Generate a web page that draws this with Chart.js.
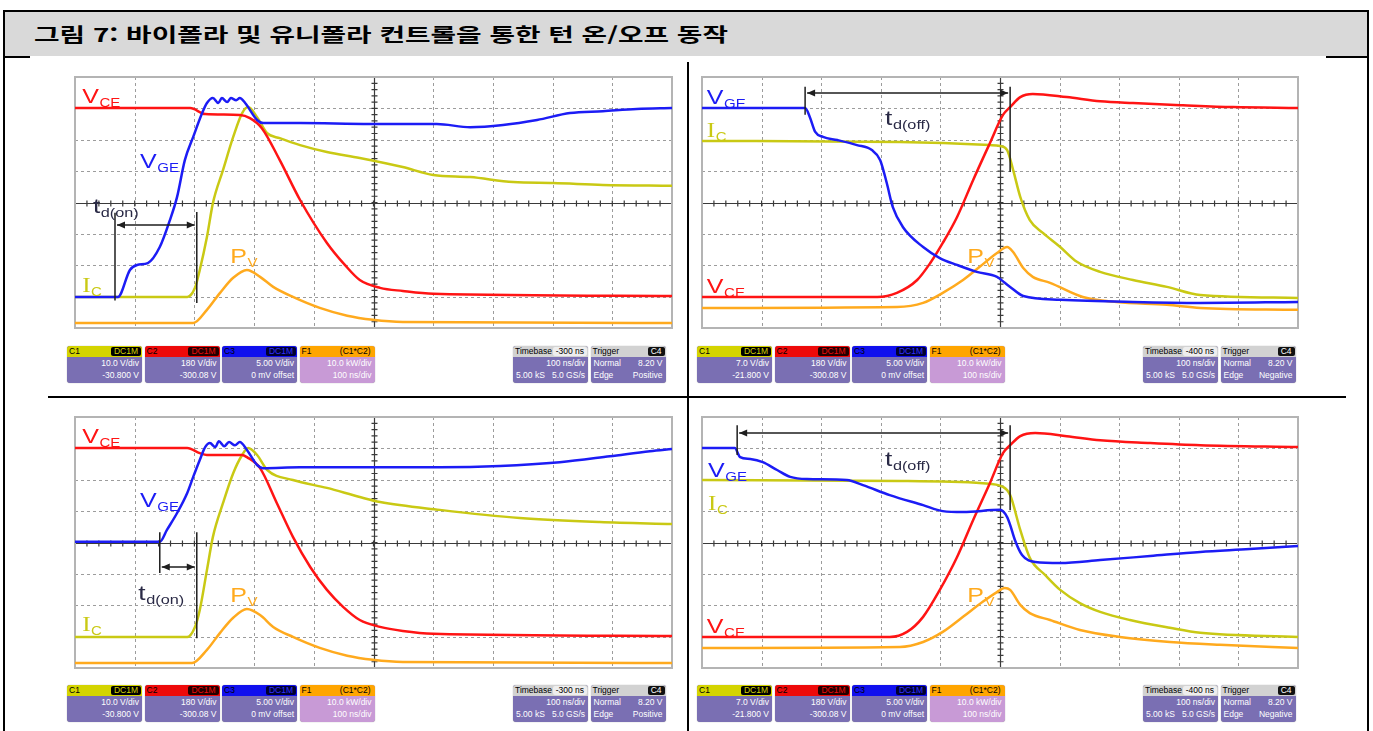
<!DOCTYPE html>
<html lang="ko">
<head>
<meta charset="UTF-8">
<title>그림 7: 바이폴라 및 유니폴라 컨트롤을 통한 턴 온/오프 동작</title>
<script src="https://cdn.jsdelivr.net/npm/chart.js"></script>
<style>
    body {
        margin: 0;
        width: 1373px;
        height: 731px;
        position: relative;
        overflow: hidden;
        background: #fff;
        font-family: "Liberation Sans", Arial, sans-serif;
    }
    .rule { position: absolute; background: #000; }
    .titlebar {
        position: absolute;
        left: 5px; top: 11px; width: 1362px; height: 45px;
        background: #d9d9d9;
    }
    .title {
        position: absolute;
        left: 34px; top: 22px;
        font-family: "Noto Sans CJK KR", sans-serif;
        font-weight: bold;
        font-size: 19px;
        line-height: 24px;
        white-space: nowrap;
        transform-origin: 0 50%;
        color: #000;
    }
    .scope { position: absolute; width: 603px; height: 257px; }
    .box {
        position: absolute;
        width: 75px; height: 37px;
        border-radius: 3px;
        background: #7a6fb3;
        overflow: hidden;
        font-size: 8.5px;
        color: #fff;
        box-shadow: 0 0 1px #888;
    }
    .box .hd {
        position: relative;
        height: 11px; line-height: 11px;
        color: #000;
        padding-left: 2px;
    }
    .box .tag {
        position: absolute; right: 1px; top: 1px;
        height: 9px; line-height: 9px;
        padding: 0 3px;
        background: #000;
        border-radius: 2px;
    }
    .box .ln {
        height: 12px; line-height: 12px;
        padding: 0 3px;
        display: flex;
        justify-content: flex-end;
    }
    .box .ln.split { justify-content: space-between; }
</style>
</head>
<body>

<div class="titlebar"></div>
<div class="title" id="title">그림 7: 바이폴라 및 유니폴라 컨트롤을 통한 턴 온/오프 동작</div>

<div class="rule" style="left:3px;top:10px;width:1366px;height:2px"></div>
<div class="rule" style="left:3px;top:10px;width:2px;height:721px"></div>
<div class="rule" style="left:1367px;top:10px;width:2px;height:721px"></div>
<div class="rule" style="left:3px;top:56px;width:27px;height:2px"></div>
<div class="rule" style="left:1326px;top:56px;width:43px;height:2px"></div>
<div class="rule" style="left:687px;top:62px;width:2px;height:669px"></div>
<div class="rule" style="left:48px;top:396px;width:1298px;height:2px"></div>

<div class="scope" style="left:72px;top:74px"><canvas id="tl"></canvas></div>
<div class="scope" style="left:699px;top:74px;width:602px"><canvas id="tr"></canvas></div>
<div class="scope" style="left:72px;top:414px"><canvas id="bl"></canvas></div>
<div class="scope" style="left:699px;top:414px;width:602px"><canvas id="br"></canvas></div>

<div id="bars"></div>

<script>
// traces in scope divisions: x 0..10, y -4..4
// top left: bipolar turn-on
const tlVceT = [0, 1.93, 2.18, 2.76, 2.93, 3.13, 3.43, 3.77, 4.22, 4.52, 4.77, 5.11, 5.49, 6.0, 10];
const tlVceV = [3.01, 3.01, 2.82, 2.79, 2.69, 2.37, 1.35, 0.08, -1.29, -1.99, -2.47, -2.72, -2.82, -2.91, -2.98];
const tlVgeT = [0, 0.72, 0.92, 1.04, 1.22, 1.42, 1.59, 1.71, 1.84, 1.98, 2.13, 2.21, 2.31, 2.40, 2.46, 2.55, 2.61, 2.70, 2.76, 2.85, 3.05, 3.15, 3.77, 4.94, 6.06, 6.62, 7.17, 7.74, 8.29, 8.84, 9.41, 10];
const tlVgeV = [-3.01, -3.01, -2.15, -1.99, -1.93, -1.42, -0.56, 0.18, 1.35, 2.09, 2.85, 3.17, 3.33, 3.17, 3.33, 3.2, 3.33, 3.26, 3.33, 3.17, 2.63, 2.53, 2.53, 2.5, 2.5, 2.4, 2.47, 2.63, 2.85, 2.91, 2.98, 3.01];
const tlIcT = [0, 1.88, 2.01, 2.09, 2.21, 2.31, 2.48, 2.65, 2.8, 2.9, 3.05, 3.22, 3.43, 3.77, 4.22, 4.77, 5.49, 6.0, 6.62, 7.34, 8.01, 8.84, 10];
const tlIcV = [-3.01, -3.01, -2.72, -2.15, -1.1, -0.02, 1.04, 2.09, 2.85, 3.04, 2.72, 2.21, 2.05, 1.83, 1.61, 1.42, 1.13, 0.88, 0.81, 0.65, 0.62, 0.56, 0.53];
const tlPvT = [0, 1.98, 2.21, 2.43, 2.65, 2.88, 3.1, 3.32, 3.65, 4.1, 4.56, 4.99, 5.49, 10];
const tlPvV = [-3.84, -3.84, -3.42, -2.88, -2.4, -2.15, -2.37, -2.69, -3.01, -3.36, -3.61, -3.74, -3.81, -3.84];

// top right: bipolar turn-off
const trVgeT = [0, 1.73, 1.81, 1.9, 2.03, 2.27, 2.6, 2.85, 2.99, 3.1, 3.2, 3.37, 3.71, 3.99, 4.28, 4.61, 4.95, 5.08, 5.17, 5.39, 6.01, 7.23, 8.36, 10];
const trVgeV = [3.01, 3.01, 2.72, 2.25, 2.09, 1.99, 1.83, 1.67, 1.35, 0.62, -0.14, -0.78, -1.42, -1.77, -1.99, -2.21, -2.37, -2.56, -2.69, -2.98, -3.1, -3.17, -3.2, -3.17];
const trIcT = [0, 3.32, 4.83, 5.0, 5.12, 5.22, 5.34, 5.5, 5.72, 6.01, 6.29, 6.68, 7.23, 7.8, 8.36, 10];
const trIcV = [1.96, 1.93, 1.83, 1.8, 1.67, 1.04, 0.18, -0.56, -0.97, -1.42, -1.89, -2.21, -2.47, -2.69, -2.95, -3.04];
const trVceT = [0, 2.94, 3.27, 3.61, 3.83, 4.04, 4.28, 4.55, 4.83, 5.05, 5.17, 5.34, 5.55, 6.12, 6.68, 7.23, 8.07, 8.91, 10];
const trVceV = [-3.01, -3.01, -2.88, -2.47, -1.93, -1.29, -0.46, 0.72, 1.89, 2.79, 3.04, 3.36, 3.46, 3.36, 3.23, 3.17, 3.1, 3.04, 3.01];
const trPvT = [0, 3.27, 3.71, 4.04, 4.38, 4.66, 4.95, 5.12, 5.22, 5.39, 5.55, 5.84, 6.39, 6.96, 7.8, 8.36, 10];
const trPvV = [-3.36, -3.33, -3.2, -2.88, -2.47, -2.05, -1.61, -1.42, -1.58, -2.09, -2.37, -2.56, -3.01, -3.17, -3.26, -3.36, -3.42];

// bottom left: unipolar turn-on
const blVceT = [0, 1.88, 2.09, 2.21, 2.8, 2.88, 3.1, 3.38, 3.65, 3.94, 4.22, 4.49, 4.77, 5.11, 5.49, 6.0, 10];
const blVceV = [3.01, 3.01, 2.85, 2.79, 2.79, 2.72, 2.37, 1.26, 0.18, -0.78, -1.51, -2.05, -2.47, -2.69, -2.82, -2.91, -2.98];
const blVgeT = [0, 1.42, 1.54, 1.71, 1.88, 1.98, 2.09, 2.18, 2.26, 2.35, 2.41, 2.5, 2.58, 2.68, 2.76, 2.88, 3.05, 3.15, 3.77, 4.94, 6.11, 7.12, 8.12, 8.96, 9.63, 10];
const blVgeV = [0.02, 0.02, 0.4, 0.94, 1.58, 2.09, 2.63, 3.04, 3.17, 3.04, 3.23, 3.07, 3.2, 3.1, 3.2, 2.95, 2.47, 2.37, 2.4, 2.4, 2.4, 2.44, 2.56, 2.75, 2.91, 2.98];
const blIcT = [0, 1.88, 2.01, 2.09, 2.21, 2.31, 2.48, 2.65, 2.8, 2.9, 3.05, 3.22, 3.65, 4.22, 4.77, 5.11, 6.11, 7.45, 8.79, 10];
const blIcV = [-3.01, -3.01, -2.69, -2.15, -0.88, 0.18, 1.26, 2.21, 2.79, 3.01, 2.79, 2.31, 1.99, 1.74, 1.45, 1.29, 1.04, 0.78, 0.65, 0.59];
const blPvT = [0, 1.96, 2.21, 2.43, 2.65, 2.88, 3.1, 3.32, 3.65, 4.1, 4.56, 4.99, 5.49, 10];
const blPvV = [-3.84, -3.84, -3.42, -2.88, -2.4, -2.12, -2.31, -2.69, -3.01, -3.36, -3.61, -3.74, -3.81, -3.84];

// bottom right: unipolar turn-off
const brVgeT = [0, 0.55, 0.64, 0.81, 1.02, 1.26, 1.48, 1.76, 2.43, 2.7, 3.15, 3.71, 4.04, 4.38, 5.0, 5.12, 5.17, 5.25, 5.37, 5.59, 6.01, 6.68, 7.52, 8.36, 9.19, 10];
const brVgeV = [3.01, 3.01, 2.72, 2.66, 2.56, 2.31, 2.09, 2.02, 1.99, 1.83, 1.51, 1.19, 1.0, 0.97, 1.04, 0.81, 0.56, 0.08, -0.4, -0.62, -0.65, -0.56, -0.43, -0.3, -0.21, -0.11];
const brIcT = [0, 3.32, 4.71, 5.05, 5.17, 5.34, 5.5, 5.76, 6.01, 6.34, 6.68, 7.18, 7.85, 8.36, 10];
const brIcV = [1.99, 1.96, 1.89, 1.77, 1.51, 0.4, -0.49, -1.04, -1.51, -1.93, -2.21, -2.47, -2.72, -2.88, -3.01];
const brVceT = [0, 3.15, 3.44, 3.71, 3.99, 4.28, 4.55, 4.83, 5.05, 5.17, 5.34, 5.59, 6.12, 6.68, 7.52, 8.36, 10];
const brVceV = [-3.01, -3.01, -2.85, -2.37, -1.51, -0.46, 0.72, 1.89, 2.85, 3.1, 3.39, 3.49, 3.39, 3.26, 3.17, 3.1, 3.04];
const brPvT = [0, 3.32, 3.71, 4.04, 4.38, 4.71, 4.95, 5.08, 5.17, 5.34, 5.5, 5.84, 6.34, 7.01, 7.85, 8.69, 10];
const brPvV = [-3.36, -3.33, -3.17, -2.85, -2.37, -1.89, -1.58, -1.45, -1.51, -1.99, -2.25, -2.47, -2.79, -3.01, -3.17, -3.26, -3.36];

const RED = '#ff1414', BLUE = '#1c1cf5', YEL = '#c9c914', ORA = '#ffaa1e', INK = '#2a2a46';

// annotation placement, also in divisions
const tlNotes = {
    labels: [['V', 'CE', 0.12, 3.17, RED], ['V', 'GE', 1.09, 1.1, BLUE], ['I', 'C', 0.12, -2.85, YEL, true], ['P', 'V', 2.6, -1.93, ORA], ['t', 'd(on)', 0.3, -0.33, INK]],
    vlines: [[0.67, -0.33, -3.12], [2.04, -0.3, -3.2]],
    arrow: [0.67, 2.04, -0.72]
};
const trNotes = {
    labels: [['V', 'GE', 0.08, 3.14, BLUE], ['I', 'C', 0.08, 2.08, YEL, true], ['t', 'd(off)', 3.07, 2.47, INK], ['V', 'CE', 0.08, -2.88, RED], ['P', 'V', 4.45, -1.93, ORA]],
    vlines: [[1.73, 3.69, 2.8], [5.17, 3.69, 0.97]],
    arrow: [1.73, 5.17, 3.49]
};
const blNotes = {
    labels: [['V', 'CE', 0.12, 3.17, RED], ['V', 'GE', 1.09, 1.13, BLUE], ['t', 'd(on)', 1.06, -1.83, INK], ['I', 'C', 0.12, -2.82, YEL, true], ['P', 'V', 2.6, -1.89, ORA]],
    vlines: [[1.42, 0.33, -0.97], [2.04, 0.33, -3.05]],
    arrow: [1.42, 2.04, -0.78]
};
const brNotes = {
    labels: [['V', 'GE', 0.1, 2.09, BLUE], ['I', 'C', 0.1, 1.04, YEL, true], ['t', 'd(off)', 3.07, 2.44, INK], ['V', 'CE', 0.08, -2.88, RED], ['P', 'V', 4.45, -1.89, ORA]],
    vlines: [[0.59, 3.74, 2.79], [5.17, 3.74, 1.03]],
    arrow: [0.59, 5.17, 3.49]
};

// scope graticule: dashed grid, centre cross with minor ticks, grey frame
const graticule = {
    id: 'graticule',
    beforeDatasetsDraw(chart) {
        const { ctx, chartArea: a, scales: { x, y } } = chart;
        ctx.save();
        ctx.lineWidth = 1;
        ctx.strokeStyle = '#9c9c9c';
        ctx.setLineDash([3, 3]);
        for (let i = 1; i < 10; i++) {
            if (i === 5) continue;
            const px = Math.round(x.getPixelForValue(i)) + 0.5;
            ctx.beginPath(); ctx.moveTo(px, a.top); ctx.lineTo(px, a.bottom); ctx.stroke();
        }
        for (let j = -3; j <= 3; j++) {
            if (j === 0) continue;
            const py = Math.round(y.getPixelForValue(j)) + 0.5;
            ctx.beginPath(); ctx.moveTo(a.left, py); ctx.lineTo(a.right, py); ctx.stroke();
        }
        ctx.setLineDash([]);
        ctx.strokeStyle = '#3a3a3a';
        ctx.lineWidth = 1.2;
        const cx = Math.round(x.getPixelForValue(5)) + 0.5;
        const cy = Math.round(y.getPixelForValue(0)) + 0.5;
        ctx.beginPath();
        ctx.moveTo(a.left, cy); ctx.lineTo(a.right, cy);
        ctx.moveTo(cx, a.top); ctx.lineTo(cx, a.bottom);
        for (let k = 1; k < 50; k++) {
            const px = x.getPixelForValue(k / 5);
            ctx.moveTo(px, cy - 3); ctx.lineTo(px, cy + 3);
        }
        for (let k = 1; k < 40; k++) {
            const py = y.getPixelForValue(-4 + k / 5);
            ctx.moveTo(cx - 3, py); ctx.lineTo(cx + 3, py);
        }
        ctx.stroke();
        ctx.strokeStyle = '#b4b4b4';
        ctx.lineWidth = 2;
        ctx.strokeRect(a.left, a.top, a.right - a.left, a.bottom - a.top);
        ctx.restore();
    }
};

function drawLabel(ctx, px, py, main, sub, color, serif) {
    ctx.save();
    ctx.translate(px, py);
    ctx.scale(1.25, 1);
    ctx.fillStyle = color;
    const big = main === 't' ? 21 : 20;
    ctx.font = big + 'px ' + (serif ? '"Liberation Serif"' : '"Liberation Sans"');
    ctx.fillText(main, 0, 0);
    const w = ctx.measureText(main).width;
    ctx.font = (main === 't' ? 13 : 12) + 'px "Liberation Sans"';
    ctx.fillText(sub, w + 0.5, 4);
    ctx.restore();
}

function notesPlugin(notes) {
    return {
        id: 'notes',
        afterDatasetsDraw(chart) {
            const { ctx, scales: { x, y } } = chart;
            ctx.save();
            ctx.strokeStyle = '#1e1e1e';
            ctx.fillStyle = '#1e1e1e';
            ctx.lineWidth = 1.5;
            notes.vlines.forEach(([t, y0, y1]) => {
                const px = x.getPixelForValue(t);
                ctx.beginPath();
                ctx.moveTo(px, y.getPixelForValue(y0));
                ctx.lineTo(px, y.getPixelForValue(y1));
                ctx.stroke();
            });
            const [a0, a1, ay] = notes.arrow;
            const x0 = x.getPixelForValue(a0) + 2, x1 = x.getPixelForValue(a1) - 2, py = y.getPixelForValue(ay);
            ctx.beginPath(); ctx.moveTo(x0, py); ctx.lineTo(x1, py); ctx.stroke();
            ctx.beginPath();
            ctx.moveTo(x0, py); ctx.lineTo(x0 + 8, py - 3.5); ctx.lineTo(x0 + 8, py + 3.5); ctx.closePath();
            ctx.moveTo(x1, py); ctx.lineTo(x1 - 8, py - 3.5); ctx.lineTo(x1 - 8, py + 3.5); ctx.closePath();
            ctx.fill();
            notes.labels.forEach(([m, s, t, v, c, serif]) => {
                drawLabel(ctx, x.getPixelForValue(t), y.getPixelForValue(v), m, s, c, serif);
            });
            ctx.restore();
        }
    };
}

function trace(ts, vs, color) {
    return {
        data: ts.map((t, i) => ({ x: t, y: vs[i] })),
        borderColor: color,
        borderWidth: 2.5,
        pointRadius: 0,
        cubicInterpolationMode: 'monotone',
        fill: false
    };
}

function scope(id, sets, notes) {
    return new Chart(document.getElementById(id), {
        type: 'line',
        data: { datasets: sets },
        options: {
            responsive: true,
            maintainAspectRatio: false,
            animation: false,
            layout: { padding: 3 },
            plugins: { legend: { display: false }, tooltip: { enabled: false } },
            scales: {
                x: { type: 'linear', min: 0, max: 10, display: false },
                y: { min: -4, max: 4, display: false }
            }
        },
        plugins: [graticule, notesPlugin(notes)]
    });
}

// first dataset is drawn on top
scope('tl', [trace(tlVgeT, tlVgeV, BLUE), trace(tlVceT, tlVceV, RED), trace(tlIcT, tlIcV, YEL), trace(tlPvT, tlPvV, ORA)], tlNotes);
scope('tr', [trace(trVgeT, trVgeV, BLUE), trace(trVceT, trVceV, RED), trace(trIcT, trIcV, YEL), trace(trPvT, trPvV, ORA)], trNotes);
scope('bl', [trace(blVgeT, blVgeV, BLUE), trace(blVceT, blVceV, RED), trace(blIcT, blIcV, YEL), trace(blPvT, blPvV, ORA)], blNotes);
scope('br', [trace(brVgeT, brVgeV, BLUE), trace(brVceT, brVceV, RED), trace(brIcT, brIcV, YEL), trace(brPvT, brPvV, ORA)], brNotes);

// scope readout boxes under each screen
function box(left, top, head, tag, tagStyle, lines, body) {
    const rows = lines.map(l => Array.isArray(l)
        ? '<div class="ln split"><span>' + l[0] + '</span><span>' + l[1] + '</span></div>'
        : '<div class="ln">' + l + '</div>').join('');
    return '<div class="box" style="left:' + left + 'px;top:' + top + 'px;' + (body ? 'background:' + body : '') + '">' +
        '<div class="hd" style="background:' + head[1] + '">' + head[0] +
        '<span class="tag" style="' + tagStyle + '">' + tag + '</span></div>' + rows + '</div>';
}

function readout(left, top, c1, shift, slope) {
    return box(left, top, ['C1', '#d4d400'], 'DC1M', 'color:#d4d400', c1) +
        box(left + 77.5, top, ['C2', '#ee0a0a'], 'DC1M', 'color:#ee0a0a;background:#200', ['180 V/div', '-300.08 V']) +
        box(left + 155, top, ['C3', '#1010ee'], 'DC1M', 'color:#3030ff;background:#000030', ['5.00 V/div', '0 mV offset']) +
        box(left + 232.5, top, ['F1', '#ffa500'], '(C1*C2)', 'color:#000;background:none', ['10.0 kW/div', '100 ns/div'], '#c89ad6') +
        box(left + 446, top, ['Timebase', '#d2d2d2'], shift, 'color:#000;background:#eee', ['100 ns/div', ['5.00 kS', '5.0 GS/s']]) +
        box(left + 523.5, top, ['Trigger', '#d2d2d2'], 'C4', 'color:#fff;background:#111', [['Normal', '8.20 V'], ['Edge', slope]]);
}

document.getElementById('bars').innerHTML =
    readout(67, 346, ['10.0 V/div', '-30.800 V'], '-300 ns', 'Positive') +
    readout(697, 346, ['7.0 V/div', '-21.800 V'], '-400 ns', 'Negative') +
    readout(67, 685, ['10.0 V/div', '-30.800 V'], '-300 ns', 'Positive') +
    readout(697, 685, ['7.0 V/div', '-21.800 V'], '-400 ns', 'Negative');

// the caption is set wide in the original
const title = document.getElementById('title');
title.style.transform = 'scaleX(' + (694 / title.getBoundingClientRect().width) + ')';
</script>
</body>
</html>
